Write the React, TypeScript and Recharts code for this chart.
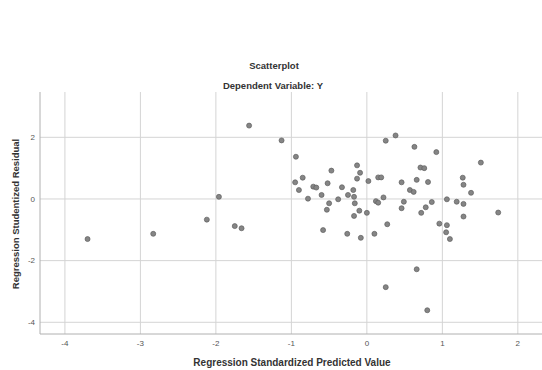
import React from 'react';
import { ScatterChart, Scatter, XAxis, YAxis, CartesianGrid } from 'recharts';

const predicted: number[] = [
  -3.70, -2.83, -2.12, -1.96, -1.75, -1.66, -1.56, -1.13, -0.94, -0.95, -0.90,
  -0.85, -0.78, -0.71, -0.67, -0.60, -0.58, -0.52, -0.50, -0.53, -0.47, -0.38,
  -0.33, -0.26, -0.25, -0.18, -0.17, -0.16, -0.17, -0.13, -0.09, -0.13, -0.10,
  -0.08, 0.00, 0.02, 0.10, 0.12, 0.15, 0.15, 0.19, 0.22, 0.25, 0.27, 0.25,
  0.38, 0.46, 0.46, 0.49, 0.57, 0.62, 0.63, 0.66, 0.66, 0.71, 0.76, 0.72,
  0.78, 0.81, 0.86, 0.80, 0.92, 0.96, 1.06, 1.06, 1.05, 1.10, 1.19, 1.27,
  1.28, 1.28, 1.28, 1.38, 1.51, 1.74,
];
const residual: number[] = [
  -1.30, -1.13, -0.67, 0.07, -0.88, -0.95, 2.38, 1.90, 1.37, 0.54, 0.29,
  0.69, 0.01, 0.40, 0.37, 0.13, -1.01, 0.51, -0.14, -0.35, 0.92, -0.01,
  0.38, -1.13, 0.13, 0.29, 0.07, -0.14, -0.55, 1.09, 0.85, 0.66, -0.38,
  -1.26, -0.45, 0.58, -1.13, -0.07, -0.12, 0.70, 0.70, 0.05, 1.89, -0.82, -2.86,
  2.06, 0.54, -0.30, -0.09, 0.29, 0.23, 1.69, 0.62, -2.28, 1.02, 1.00, -0.45,
  -0.27, 0.55, -0.10, -3.61, 1.52, -0.80, -0.01, -0.85, -1.08, -1.30, -0.09, 0.69,
  0.46, -0.16, -0.57, 0.20, 1.18, -0.44,
];
const xTicks: number[] = [-4, -3, -2, -1, 0, 1, 2];
const yTicks: number[] = [-4, -2, 0, 2];

const title = 'Scatterplot';
const subtitle = 'Dependent Variable: Y';
const xTitle = 'Regression Standardized Predicted Value';
const yTitle = 'Regression Studentized Residual';

const points = predicted.map((x, i) => ({ x, y: residual[i] }));

const FONT = '"Liberation Sans", Arial, sans-serif';

const Dot = (props: any) => (
  <circle cx={props.cx} cy={props.cy} r={2.5} fill="#858585" stroke="#5e5e5e" strokeWidth={0.7} />
);

const YTitle = (props: any) => {
  const vb = props.viewBox || {};
  const cx = 15;
  const cy = vb.y + vb.height / 2 + 1;
  return (
    <text x={cx} y={cy} transform={`rotate(-90 ${cx} ${cy})`} textAnchor="middle" dominantBaseline="central"
      fontFamily={FONT} fontSize={9.5} fontWeight="bold" fill="#333">{yTitle}</text>
  );
};

const XTitle = (props: any) => {
  const vb = props.viewBox || {};
  const cx = vb.x + vb.width / 2 + 1;
  return (
    <text x={cx} y={362} textAnchor="middle" dominantBaseline="central"
      fontFamily={FONT} fontSize={10} fontWeight="bold" fill="#333">{xTitle}</text>
  );
};

export default function App() {
  return (
    <div style={{ position: 'absolute', left: 0, top: 0, width: 542, height: 370, background: '#fff' }}>
      <div style={{ position: 'absolute', left: 0, width: 548, top: 59, textAlign: 'center', fontFamily: FONT, fontSize: 9.5, fontWeight: 'bold', color: '#333', lineHeight: '14px' }}>{title}</div>
      <div style={{ position: 'absolute', left: 0, width: 546, top: 79, textAlign: 'center', fontFamily: FONT, fontSize: 9.5, fontWeight: 'bold', color: '#333', lineHeight: '14px' }}>{subtitle}</div>
      <ScatterChart width={542} height={370} margin={{ top: 92, right: 0, bottom: 0, left: 0 }}>
        <CartesianGrid stroke="#d4d4d4" strokeWidth={1} horizontalValues={yTicks} verticalValues={xTicks} />
        <XAxis type="number" dataKey="x" domain={[-4.33, 2.32]} ticks={xTicks} allowDataOverflow
          height={36} tickLine={false} tickSize={0} tickMargin={6} axisLine={{ stroke: '#b0b0b0' }}
          tick={{ fontFamily: FONT, fontSize: 8, fill: '#555' }} label={<XTitle />} />
        <YAxis type="number" dataKey="y" domain={[-4.38, 3.47]} ticks={yTicks} allowDataOverflow
          width={40} tickLine={false} tickSize={0} tickMargin={5} axisLine={{ stroke: '#b0b0b0' }}
          tick={{ fontFamily: FONT, fontSize: 8, fill: '#555' }} label={<YTitle />} />
        <Scatter data={points} shape={<Dot />} isAnimationActive={false} />
      </ScatterChart>
    </div>
  );
}
